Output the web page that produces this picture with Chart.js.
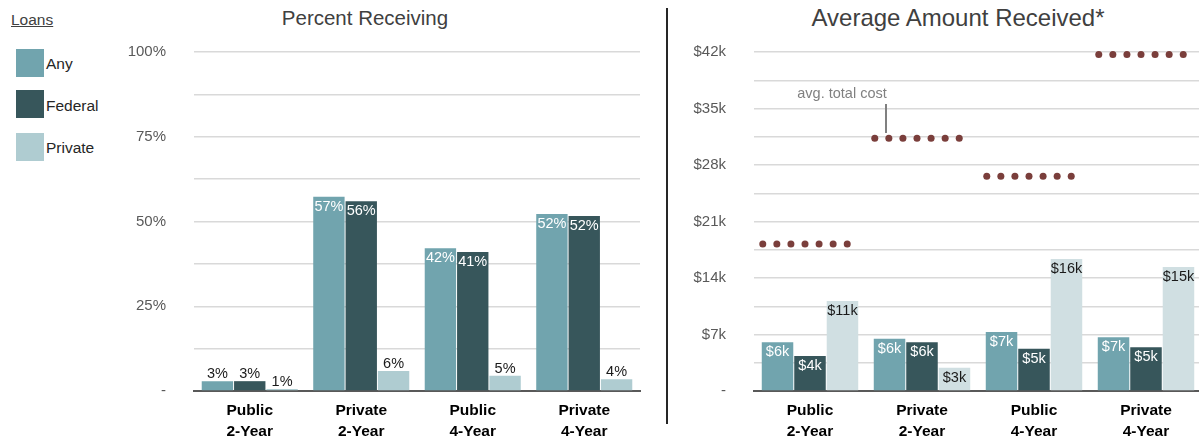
<!doctype html>
<html>
<head>
<meta charset="utf-8">
<title>Loans</title>
<script src="https://cdn.jsdelivr.net/npm/chart.js@4"></script>
<style>
body { margin: 0; width: 1199px; height: 439px; overflow: hidden; background: #fff;
       font-family: "Liberation Sans", Arial, sans-serif; position: relative; }
.abs { position: absolute; }
.title { color: #404040; white-space: nowrap; transform: translateX(-50%); line-height: 1; }
.key { width: 28px; height: 28px; }
.ktext { font-size: 15.5px; color: #262626; }
</style>
</head>
<body>
<div class="abs title" style="left:365px; top:8px; font-size:20.5px;">Percent Receiving</div>
<div class="abs title" style="left:958px; top:6px; font-size:24px;">Average Amount Received*</div>

<div class="abs" style="left:11px; top:11px; font-size:15.5px; color:#404040; text-decoration:underline;">Loans</div>
<div class="abs key" style="left:16px; top:49px; background:#71A4AE;"></div>
<div class="abs ktext" style="left:46px; top:55px;">Any</div>
<div class="abs key" style="left:16px; top:90px; background:#37565B;"></div>
<div class="abs ktext" style="left:46px; top:97px;">Federal</div>
<div class="abs key" style="left:16px; top:133px; background:#AFCCD1;"></div>
<div class="abs ktext" style="left:46px; top:139px;">Private</div>

<div class="abs" style="left:666px; top:8px; width:2px; height:416px; background:#262626;"></div>

<div class="abs" style="left:100px; top:0; width:545px; height:439px;"><canvas id="left"></canvas></div>
<div class="abs" style="left:680px; top:0; width:522px; height:439px;"><canvas id="right"></canvas></div>

<div class="abs" style="left:842px; top:85px; transform:translateX(-50%); font-size:14.5px; color:#808080; white-space:nowrap;">avg. total cost</div>
<div class="abs" style="left:885px; top:104px; width:1.5px; height:29px; background:#808080;"></div>

<script>
var categories = [['Public', '2-Year'], ['Private', '2-Year'], ['Public', '4-Year'], ['Private', '4-Year']];

// percent receiving
var pctAny = [2.9, 57.3, 42.1, 52.2];
var pctFederal = [2.9, 56.0, 41.0, 51.6];
var pctPrivate = [0.6, 5.9, 4.5, 3.5];
var pctTicks = [0, 25, 50, 75, 100];

// average amount received ($)
var amtAny = [6030, 6480, 7310, 6650];
var amtFederal = [4340, 6030, 5240, 5410];
var amtPrivate = [11150, 2890, 16360, 15370];
var avgTotalCost = [18200, 31300, 26600, 41700];
var amtTicks = [0, 7000, 14000, 21000, 28000, 35000, 42000];

var FONT = '"Liberation Sans", Arial, sans-serif';
var colAny = '#71A4AE', colFed = '#37565B';

// per canvas settings (kept out of chart options so they aren't treated as scriptable)
var labelCfg = {};

// bar value labels, inside top of the bar or just above it
var barLabels = {
    id: 'barLabels',
    afterDatasetsDraw: function(chart) {
        var o = labelCfg[chart.canvas.id];
        var ctx = chart.ctx;
        ctx.save();
        ctx.font = '14.5px ' + FONT;
        ctx.textAlign = 'center';
        ctx.textBaseline = 'middle';
        chart.data.datasets.forEach(function(ds, i) {
            var meta = chart.getDatasetMeta(i);
            meta.data.forEach(function(bar, j) {
                var v = ds.data[j];
                var inside = o.inside(v);
                var y = inside ? bar.y + 10 : bar.y - 7;
                ctx.fillStyle = (inside && i < 2) ? '#ffffff' : '#1a1a1a';
                ctx.fillText(o.fmt(v), bar.x, y);
            });
        });

        // dotted avg. total cost marks across each group of bars
        if (o.cost) {
            var yScale = chart.scales.y;
            var first = chart.getDatasetMeta(0).data, last = chart.getDatasetMeta(2).data;
            ctx.fillStyle = '#7A3E3B';
            o.cost.forEach(function(c, k) {
                var y = yScale.getPixelForValue(c);
                var x0 = first[k].x - first[k].width / 2 + 1;
                var x1 = last[k].x + last[k].width / 2 - 11;
                for (var d = 0; d < 7; d++) {
                    ctx.beginPath();
                    ctx.arc(x0 + (x1 - x0) * d / 6, y, 3.5, 0, Math.PI * 2);
                    ctx.fill();
                }
            });
        }
        ctx.restore();
    }
};

function makeChart(id, opts) {
    labelCfg[id] = { fmt: opts.fmt, inside: opts.inside, cost: opts.cost };
    var datasets = [
        { label: 'Any', data: opts.any, backgroundColor: colAny },
        { label: 'Federal', data: opts.fed, backgroundColor: colFed },
        { label: 'Private', data: opts.priv, backgroundColor: opts.privColor }
    ];
    datasets.forEach(function(d) {
        d.categoryPercentage = 0.87;
        d.barPercentage = 0.97;
    });
    return new Chart(document.getElementById(id), {
        type: 'bar',
        data: { labels: categories, datasets: datasets },
        plugins: [barLabels],
        options: {
            responsive: true,
            maintainAspectRatio: false,
            animation: false,
            layout: { padding: { top: 52, right: opts.padRight, bottom: 0, left: 0 } },
            plugins: {
                legend: { display: false },
                tooltip: { enabled: false }
            },
            scales: {
                x: {
                    grid: { display: false },
                    border: { display: true, color: '#595959', width: 2 },
                    ticks: { color: '#000', padding: 2, font: { family: FONT, size: 15.5, weight: 'bold', lineHeight: 1.3 } },
                    afterFit: function(s) { s.height = 48; }
                },
                y: {
                    min: 0, max: opts.max,
                    grid: { color: '#d9d9d9', lineWidth: 1.5, drawTicks: false },
                    border: { display: false },
                    ticks: {
                        stepSize: opts.step,
                        maxTicksLimit: 20,
                        color: '#595959', padding: opts.tickPad,
                        font: { family: FONT, size: 15 },
                        callback: function(v) {
                            if (opts.ticks.indexOf(v) < 0) return '';
                            return v === 0 ? '-' : opts.tickFmt(v);
                        }
                    },
                    afterFit: function(s) { s.width = opts.yWidth; }
                }
            }
        }
    });
}

makeChart('left', {
    any: pctAny, fed: pctFederal, priv: pctPrivate, privColor: '#AFCCD1',
    max: 100, step: 12.5, ticks: pctTicks, yWidth: 94, tickPad: 28, padRight: 5,
    tickFmt: function(v) { return v + '%'; },
    fmt: function(v) { return Math.max(1, Math.round(v)) + '%'; },
    inside: function(v) { return v >= 10; }
});

makeChart('right', {
    any: amtAny, fed: amtFederal, priv: amtPrivate, privColor: '#D0DFE2', cost: avgTotalCost,
    max: 42000, step: 3500, ticks: amtTicks, yWidth: 74, tickPad: 28, padRight: 0,
    tickFmt: function(v) { return '$' + (v / 1000) + 'k'; },
    fmt: function(v) { return '$' + Math.round(v / 1000) + 'k'; },
    inside: function(v) { return true; }
});
</script>
</body>
</html>
